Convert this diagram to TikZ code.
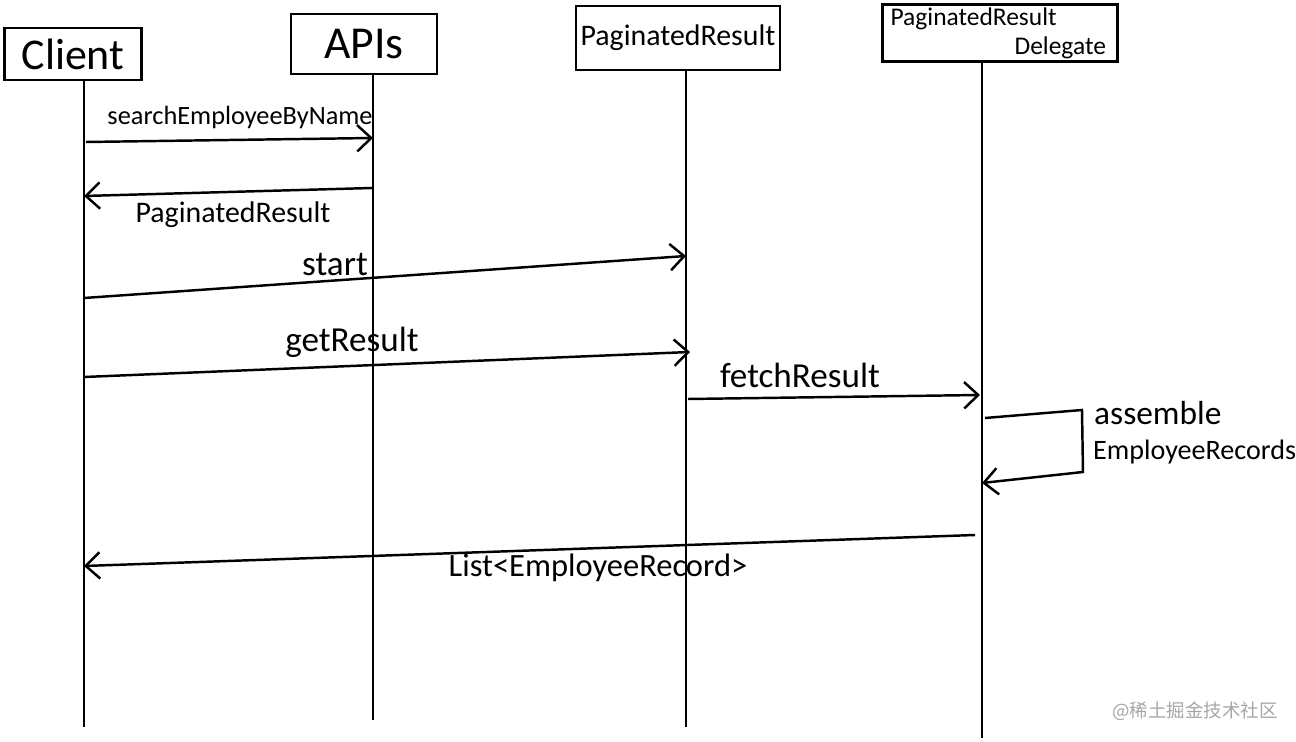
\documentclass[tikz,border=0pt]{standalone}
\usepackage{fontspec}
\setmainfont{Carlito}
\newfontfamily\cjkwm{Noto Sans CJK SC}
\usetikzlibrary{arrows.meta}
\newcommand{\fs}[1]{\fontsize{#1}{#1}\selectfont}
\begin{document}
\begin{tikzpicture}[x=0.02cm,y=-0.02cm,line width=1.4pt,
  actor/.style={draw,line width=1.6pt,inner sep=0pt,align=center},
  life/.style={line width=1.4pt},
  msg/.style={-{Straight Barb[length=8pt,width=15pt,line width=1.4pt]}},
  lbl/.style={inner sep=0pt}]
\useasboundingbox (0,0) rectangle (1296,742);
% actors
\node[actor,minimum width=2.74cm,minimum height=1.04cm] (client) at (73,54) {\fs{25}Client};
\node[actor,minimum width=2.92cm,minimum height=1.20cm] (apis) at (364,44) {\fs{26}APIs};
\node[actor,minimum width=4.08cm,minimum height=1.28cm] (pr) at (678,38) {\fs{17}PaginatedResult};
\node[actor,minimum width=4.70cm,minimum height=1.14cm,align=right,
      font=\fontsize{14.5}{16.5}\selectfont] (prd) at (1000,33) {PaginatedResult\hspace*{30pt}\\Delegate\hspace*{2pt}};
% lifeline ends
\coordinate (cl) at (84,727);
\coordinate (al) at (373,720);
\coordinate (pl) at (686,727);
\coordinate (dl) at (982,738);
\draw[life] (client.south -| cl) -- (cl);
\draw[life] (apis.south -| al) -- (al);
\draw[life] (pr.south -| pl) -- (pl);
\draw[life] (prd.south -| dl) -- (dl);
% message end points
\coordinate (m1a) at (86,142);  \coordinate (m1b) at (373,138);
\coordinate (m2a) at (372,188); \coordinate (m2b) at (84,196);
\coordinate (m3a) at (84,298);  \coordinate (m3b) at (686,256);
\coordinate (m4a) at (84,377);  \coordinate (m4b) at (690,352);
\coordinate (m5a) at (688,399); \coordinate (m5b) at (980,395);
\coordinate (s1) at (985,418);  \coordinate (s2) at (1082,410);
\coordinate (s3) at (1083,472); \coordinate (s4) at (982,483);
\coordinate (m7a) at (975,535); \coordinate (m7b) at (84,566);
% messages
\draw[msg] (m1a) -- (m1b);
\draw[msg] (m2a) -- (m2b);
\draw[msg] (m3a) -- (m3b);
\draw[msg] (m4a) -- (m4b);
\draw[msg] (m5a) -- (m5b);
\draw[msg] (s1) -- (s2) -- (s3) -- (s4);
\draw[msg] (m7a) -- (m7b);
% labels
\node[lbl] (l1) at (240,117) {\fs{15}searchEmployeeByName};
\node[lbl] (l2) at (233,215) {\fs{17}PaginatedResult};
\node[lbl] (l3) at (335,265) {\fs{20}start};
\node[lbl] (l4) at (352,342) {\fs{20}getResult};
\node[lbl] (l5) at (800,375) {\fs{20}fetchResult};
\node[lbl,anchor=west] (l6) at (1093,413) {\fs{19}assemble};
\node[lbl,anchor=west] (l7) at (1092,452) {\fs{16}EmployeeRecords};
\node[lbl] (l8) at (598,568) {\fs{18.5}List<EmployeeRecord>};
\node[lbl,text=black!35] (wm) at (1195,711) {\cjkwm\fs{10.5}@稀土掘金技术社区};
\end{tikzpicture}
\end{document}
